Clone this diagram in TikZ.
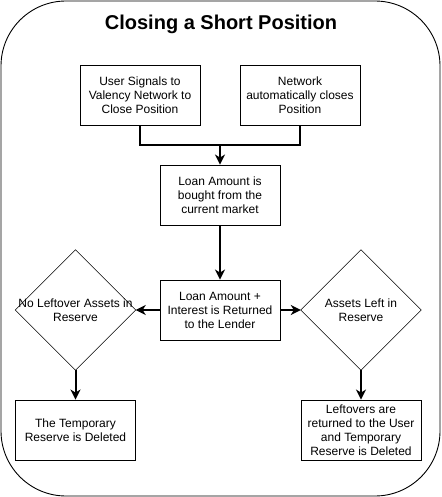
\documentclass[tikz,border=0pt]{standalone}
\usepackage{fontspec}
\setmainfont{Liberation Sans}
\usetikzlibrary{arrows.meta}
\begin{document}
\begin{tikzpicture}[x=1pt,y=-1pt,
  box/.style={draw, line width=0.9pt, minimum width=120pt, minimum height=60pt, align=center, inner sep=0pt, font=\fontsize{12}{14}\selectfont},
  decarea/.style={minimum width=120pt, minimum height=120pt, align=center, inner sep=0pt, font=\fontsize{12}{14}\selectfont},
  decline/.style={line width=0.5pt},
  conn/.style={line width=2pt},
  arr/.style={line width=2pt, -{Stealth[length=10pt,width=10pt,inset=3pt]}}]
\useasboundingbox (0,0) rectangle (441,497);
\draw[line width=0.9pt, rounded corners=65pt] (1,1) rectangle (440,496);
\node[font=\bfseries\fontsize{20}{24}\selectfont] (title) at (221,24) {Closing a Short Position};
\node[box] (b1) at (140,95.5) {User Signals to\\Valency Network to\\Close Position};
\node[box] (b2) at (300,95.5) {Network\\automatically closes\\Position};
\node[box] (b3) at (220,195) {Loan Amount is\\bought from the\\current market};
\node[box] (b4) at (220,310) {Loan Amount +\\Interest is Returned\\to the Lender};
\node[decarea] (dl) at (75.5,310) {No Leftover Assets in\\Reserve};
\node[decarea] (dr) at (361,310) {Assets Left in\\Reserve};
\draw[decline] (dl.north) -- (dl.east) -- (dl.south) -- (dl.west) -- cycle;
\draw[decline] (dr.north) -- (dr.east) -- (dr.south) -- (dr.west) -- cycle;
\node[box] (b5) at (75.5,430) {The Temporary\\Reserve is Deleted};
\node[box] (b6) at (361,430) {Leftovers are\\returned to the User\\and Temporary\\Reserve is Deleted};
\coordinate (j) at (220,145);
\draw[conn] (b1.south) |- (j) -| (b2.south);
\draw[arr] (j) -- (b3.north);
\draw[arr] (b3.south) -- (b4.north);
\draw[arr] (b4.west) -- (dl.east);
\draw[arr] (b4.east) -- (dr.west);
\draw[arr] (dl.south) -- (b5.north);
\draw[arr] (dr.south) -- (b6.north);
\end{tikzpicture}
\end{document}
